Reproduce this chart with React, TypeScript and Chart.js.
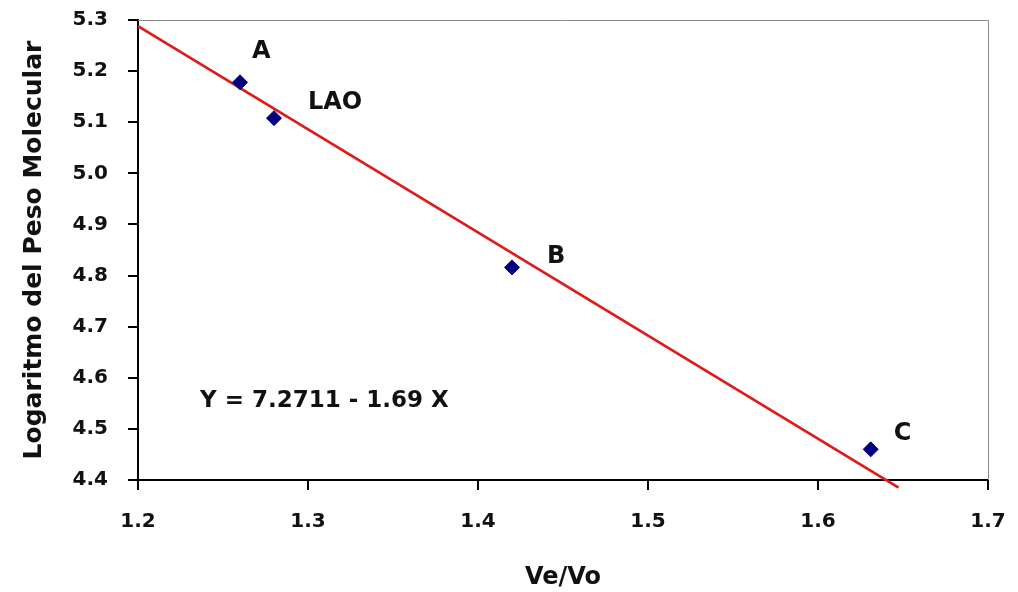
import React, { useEffect, useRef } from "react";
import { Chart, registerables } from "chart.js";

Chart.register(...registerables);

// ---- data ----
const POINT_NAMES = ["A", "LAO", "B", "C"];
const POINT_X = [1.26, 1.28, 1.42, 1.631];
const POINT_Y = [5.178, 5.108, 4.816, 4.46];

// fitted line as drawn in the picture (end points)
const FIT_X = [1.2, 1.6474];
const FIT_Y = [5.288, 4.385];

const EQUATION = "Y = 7.2711 - 1.69 X";
const EQ_ANCHOR_X = 1.2365;
const EQ_ANCHOR_Y = 4.554;

const X_TITLE = "Ve/Vo";
const Y_TITLE = "Logaritmo del Peso Molecular";
const X_MIN = 1.2, X_MAX = 1.7;
const Y_MIN = 4.4, Y_MAX = 5.3;

// label offsets (pixels, style only)
const LABEL_OFFSETS: Record<string, [number, number]> = {
  A: [12, -31],
  LAO: [34, -15],
  B: [35, -11],
  C: [23, -16],
};

const FONT = "'DejaVu Sans', 'Liberation Sans', Arial, sans-serif";

const annotationPlugin = {
  id: "annotations",
  beforeDatasetsDraw(chart: any) {
    const { ctx, chartArea } = chart;
    ctx.save();
    ctx.strokeStyle = "#8c8c8c";
    ctx.lineWidth = 1;
    ctx.beginPath();
    ctx.moveTo(chartArea.left, chartArea.top + 0.5);
    ctx.lineTo(chartArea.right + 0.5, chartArea.top + 0.5);
    ctx.lineTo(chartArea.right + 0.5, chartArea.bottom);
    ctx.stroke();
    ctx.restore();
  },
  afterDatasetsDraw(chart: any) {
    const { ctx, scales } = chart;
    const xs = scales.x, ys = scales.y;
    ctx.save();
    ctx.fillStyle = "#111";
    ctx.textAlign = "left";
    ctx.textBaseline = "middle";
    ctx.font = `bold 24px ${FONT}`;
    POINT_NAMES.forEach((name, i) => {
      const px = xs.getPixelForValue(POINT_X[i]);
      const py = ys.getPixelForValue(POINT_Y[i]);
      const [dx, dy] = LABEL_OFFSETS[name] || [10, -10];
      ctx.fillText(name, px + dx, py + dy);
    });
    ctx.font = `bold 23px ${FONT}`;
    ctx.fillText(EQUATION, xs.getPixelForValue(EQ_ANCHOR_X), ys.getPixelForValue(EQ_ANCHOR_Y));
    ctx.restore();
  },
};

export default function App() {
  const ref = useRef<HTMLCanvasElement | null>(null);

  useEffect(() => {
    if (!ref.current) return;
    const chart = new Chart(ref.current, {
      type: "scatter",
      data: {
        datasets: [
          {
            type: "line",
            label: "fit",
            data: FIT_X.map((x, i) => ({ x, y: FIT_Y[i] })),
            borderColor: "rgb(222,28,28)",
            borderWidth: 2.8,
            pointRadius: 0,
            fill: false,
            clip: false as any,
            order: 2,
          },
          {
            type: "scatter",
            label: "points",
            data: POINT_X.map((x, i) => ({ x, y: POINT_Y[i] })),
            pointStyle: "rectRot",
            pointRadius: 7.5,
            pointBackgroundColor: "#00007f",
            pointBorderColor: "#00007f",
            pointBorderWidth: 1,
            order: 1,
          },
        ],
      },
      options: {
        animation: false,
        responsive: true,
        maintainAspectRatio: false,
        layout: { padding: { left: 0, top: 20, right: 30, bottom: 0 } },
        plugins: {
          legend: { display: false },
          tooltip: { enabled: false },
        },
        scales: {
          x: {
            type: "linear",
            min: X_MIN,
            max: X_MAX,
            afterFit(scale: any) {
              scale.height = 112;
              scale.paddingLeft = 0;
              scale.paddingRight = 0;
            },
            ticks: {
              stepSize: 0.1,
              padding: 20,
              color: "#111",
              font: { family: FONT, size: 20, weight: "bold" },
              callback: (v: any) => Number(v).toFixed(1),
            },
            grid: {
              drawOnChartArea: false,
              drawTicks: true,
              tickLength: 10,
              color: "#000",
              lineWidth: 2,
            },
            border: { display: true, color: "#000", width: 2 },
            title: {
              display: true,
              text: X_TITLE,
              color: "#111",
              font: { family: FONT, size: 24, weight: "bold" },
              padding: { top: 0, bottom: 0 },
            },
          },
          y: {
            type: "linear",
            min: Y_MIN,
            max: Y_MAX,
            afterFit(scale: any) {
              scale.width = 138;
              scale.paddingTop = 0;
              scale.paddingBottom = 0;
            },
            ticks: {
              stepSize: 0.1,
              padding: 20,
              color: "#111",
              font: { family: FONT, size: 20, weight: "bold" },
              callback: (v: any) => Number(v).toFixed(1),
            },
            grid: {
              drawOnChartArea: false,
              drawTicks: true,
              tickLength: 10,
              color: "#000",
              lineWidth: 2,
            },
            border: { display: true, color: "#000", width: 2 },
            title: {
              display: true,
              text: Y_TITLE,
              color: "#111",
              font: { family: FONT, size: 25, weight: "bold" },
              padding: { top: 19, bottom: 0 },
            },
          },
        },
      },
      plugins: [annotationPlugin],
    });
    return () => chart.destroy();
  }, []);

  return (
    <div style={{ position: "absolute", left: 0, top: 0, width: 1018, height: 592, background: "#fff" }}>
      <canvas ref={ref} />
    </div>
  );
}
